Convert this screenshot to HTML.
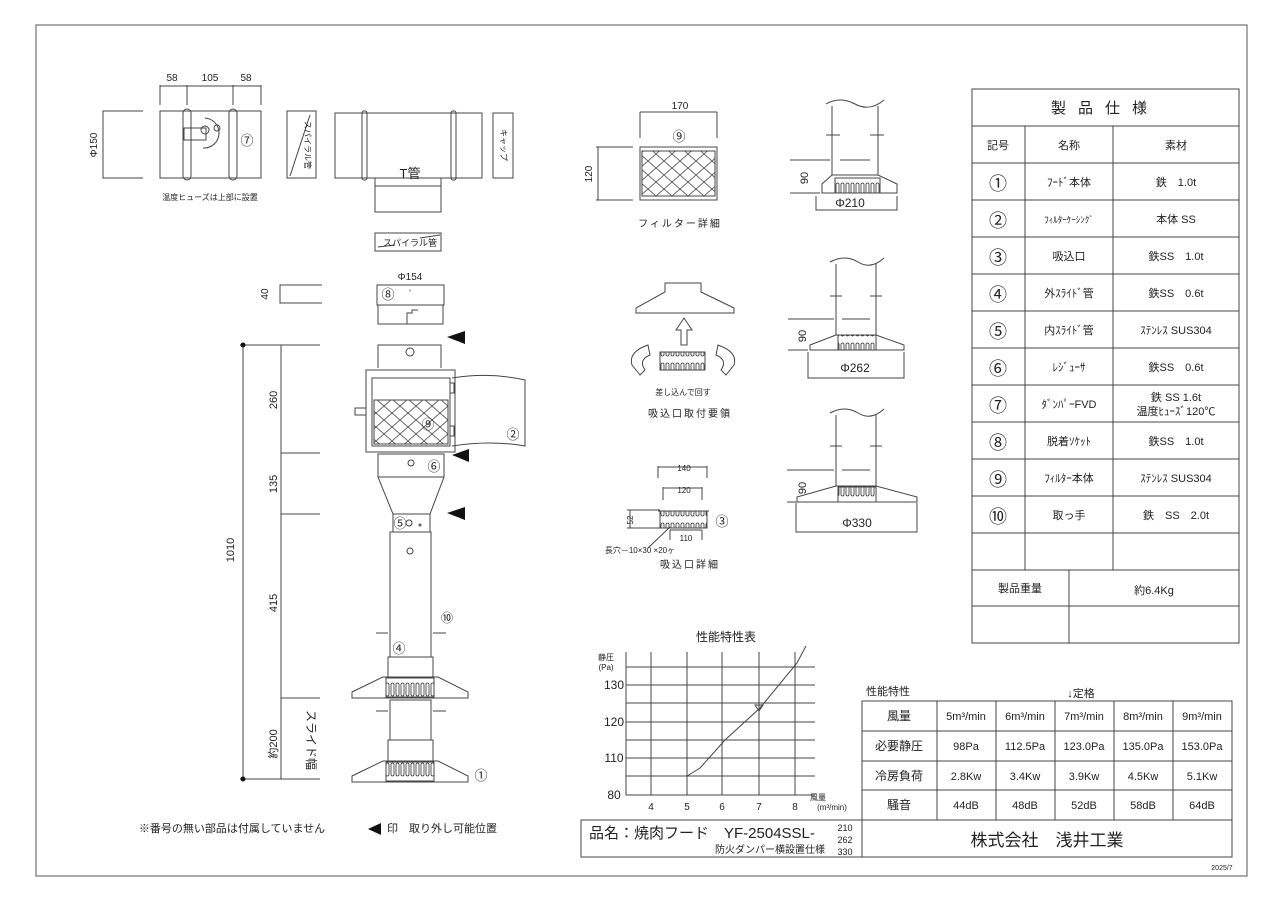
<!DOCTYPE html>
<html><head><meta charset="utf-8"><style>
html,body{margin:0;padding:0;background:#fff;}
svg{display:block;font-family:"Liberation Sans","Noto Sans CJK JP",sans-serif;}
text{fill:#222;}
</style></head><body>
<svg width="1280" height="904" viewBox="0 0 1280 904" xmlns="http://www.w3.org/2000/svg">
<defs>
<pattern id="mesh" width="16" height="14" patternUnits="userSpaceOnUse">
<path d="M0 0L16 14M16 0L0 14" stroke="#444" stroke-width="0.8" fill="none"/>
</pattern>
<pattern id="gr" width="5" height="20" patternUnits="userSpaceOnUse">
<rect x="1" y="3" width="3" height="13" rx="1.5" fill="none" stroke="#333" stroke-width="0.8"/>
</pattern>
</defs>
<rect x="36" y="25" width="1211" height="851" fill="none" stroke="#555" stroke-width="1"/>
<g fill="none" stroke="#444" stroke-width="1">
<line x1="160" y1="85" x2="160" y2="105"/><line x1="187" y1="85" x2="187" y2="105"/><line x1="233" y1="85" x2="233" y2="105"/><line x1="261" y1="85" x2="261" y2="105"/>
<line x1="160" y1="86" x2="261" y2="86"/>
<path d="M143 111H103V178H143"/>
<rect x="160" y="111" width="101" height="67"/>
<rect x="183" y="109" width="8" height="71" rx="4"/><rect x="229" y="109" width="8" height="71" rx="4"/>
<path d="M205 118a15 15 0 1 1 -2 30 M184 128h22v12h-22z" />
<circle cx="205" cy="130" r="4"/><circle cx="217" cy="128" r="3"/>
<rect x="287" y="111" width="29" height="67"/><line x1="290" y1="176" x2="310" y2="115"/>
<rect x="335" y="113" width="147" height="65"/>
<rect x="362" y="111" width="5" height="69" rx="2"/><rect x="451" y="111" width="5" height="69" rx="2"/>
<rect x="375" y="178" width="66" height="34"/><line x1="375" y1="186" x2="441" y2="186"/>
<rect x="493" y="113" width="20" height="65"/>
<rect x="375" y="233" width="66" height="18"/><line x1="378" y1="247" x2="395" y2="245"/><line x1="420" y1="238" x2="440" y2="235"/>
<path d="M322 285H280V303H322"/>
<rect x="377" y="285" width="67" height="20"/>
<path d="M378 305V324H443V305 M407 324V313H412V310H418"/>
<path d="M378 368V345H441V368 M366 370H455V452H366Z"/>
<rect x="372" y="378" width="78" height="68"/>
<rect x="374" y="400" width="74" height="44" fill="url(#mesh)"/>
<path d="M452 378Q490 372 525 380V446Q490 440 452 446"/>
<rect x="450" y="383" width="4" height="10"/><rect x="450" y="426" width="4" height="10"/>
<rect x="355" y="408" width="11" height="7"/>
<circle cx="410" cy="352" r="4"/>
<path d="M378 454H444V477L430 514H393L378 477Z M378 477H444"/>
<circle cx="411" cy="463" r="3"/>
<rect x="393" y="514" width="37" height="18"/><circle cx="409" cy="523" r="3"/><circle cx="420" cy="525" r="1"/>
<rect x="390" y="532" width="41" height="125"/><circle cx="410" cy="551" r="3"/>
<rect x="388" y="657" width="45" height="20"/>
<path d="M376 633H388M433 633H446 M376 711H388M433 711H446"/>
<path d="M383 677H438L468 692V698H352V692Z"/>
<rect x="386" y="678" width="48" height="19" fill="url(#gr)"/>
<rect x="390" y="700" width="41" height="40"/><rect x="388" y="740" width="45" height="21"/>
<path d="M383 761H438L468 776V782H352V776Z"/>
<rect x="386" y="762" width="48" height="19" fill="url(#gr)"/>
<line x1="243" y1="345" x2="243" y2="779"/>
<line x1="281" y1="345" x2="281" y2="779"/>
<path d="M240 345H320M281 453H320M281 514H320M281 698H320M240 779H320"/>
<line x1="640" y1="112" x2="717" y2="112"/><line x1="640" y1="112" x2="640" y2="138"/><line x1="717" y1="112" x2="717" y2="138"/>
<rect x="640" y="147" width="77" height="53"/><rect x="642" y="151" width="73" height="45" fill="url(#mesh)"/>
<path d="M596 147H633M596 200H633M598 147V200"/>
<path d="M665 283V292L636 308V313H734V308L701 292V283Z"/>
<path d="M681 345V330H676L684 318L692 330H687V345Z"/>
<rect x="660" y="352" width="45" height="18" fill="url(#gr)"/>
<path d="M660 352H705"/>
<path d="M648 345Q628 352 632 365L640 375L645 370Q638 360 650 355Z"/>
<path d="M718 345Q738 352 734 365L726 375L721 370Q728 360 716 355Z"/>
<path d="M658 466V478M707 466V478M658 467H707 M663 487V500M702 487V500M663 488H702"/>
<rect x="660" y="511" width="47" height="17" fill="url(#gr)"/><path d="M658 511H709"/>
<path d="M627 510H660M627 528H660M630 510V528 M670 530H702M670 530V540M702 530V540"/>
<line x1="648" y1="548" x2="670" y2="527"/>
<path d="M832 106V175M878 106V175M826 104Q840 96 855 104T884 100M826 135H840M870 135H884M840 160H870M790 160H830M790 193H820"/>
<path d="M832 175L822 184V193H897V184L878 175Z"/><rect x="835" y="178" width="45" height="15" fill="url(#gr)"/>
<path d="M816 196V210H897V196"/>
<path d="M836 264V335M876 264V335M830 262Q845 254 858 262T884 258M830 296H842M870 296H882M842 319H870M788 319H834M788 350H808"/>
<path d="M836 335L810 345V350H904V345L876 335Z"/><rect x="838" y="335" width="38" height="15" fill="url(#gr)"/>
<path d="M808 352V378H904V352"/>
<path d="M836 415V486M876 415V486M830 413Q845 405 858 413T884 409M830 446H842M870 446H882M842 470H870M787 470H834M787 502H797"/>
<path d="M836 486L797 497V502H917V497L876 486Z"/><rect x="838" y="487" width="38" height="15" fill="url(#gr)"/>
<path d="M796 503V532H917V503"/>
<rect x="972" y="89" width="267" height="554"/>
<path d="M972 126H1239M972 163H1239M972 200H1239M972 237H1239M972 274H1239M972 311H1239M972 348H1239M972 385H1239M972 422H1239M972 459H1239M972 496H1239M972 533H1239M972 570H1239M972 606H1239"/>
<path d="M1025 126V570M1113 126V570M1069 570V643"/>
<path d="M626 652V795H815 M626 667H815M626 685H815M626 703H815M626 722H815M626 740H815M626 758H815M626 776H815 M651 652V795M687 652V795M722 652V795M759 652V795M795 652V795"/>
<path d="M687 776L700 768L725 740L760 708L797 663L806 646"/>
<path d="M755 705h8l-4 6z"/>
<rect x="862" y="701" width="370" height="119"/>
<path d="M862 731H1232M862 761H1232M862 790H1232 M937 701V820M996 701V820M1055 701V820M1114 701V820M1173 701V820"/>
<rect x="581" y="820" width="651" height="37"/><line x1="862" y1="820" x2="862" y2="857"/>
</g>
<g fill="#111">
<path d="M447 337L465 331V344Z M452 455L469 449V462Z M447 513L465 507V520Z M368 829L381 823V835Z"/>
<circle cx="243" cy="345" r="2.5"/><circle cx="243" cy="779" r="2.5"/>
</g>
<g font-size="10" text-anchor="middle">
<text x="172" y="81">58</text><text x="210" y="81">105</text><text x="246" y="81">58</text>
<text transform="translate(97,145) rotate(-90)">Φ150</text>
<text x="247" y="145" font-size="13">⑦</text>
<text x="210" y="200" font-size="8">温度ヒューズは上部に設置</text>
<text transform="translate(305,145) rotate(90)" font-size="8">スパイラル管</text>
<text x="410" y="178" font-size="13">T管</text>
<text transform="translate(501,145) rotate(90)" font-size="8">キャップ</text>
<text x="410" y="246" font-size="9">スパイラル管</text>
<text x="410" y="280">Φ154</text>
<text x="388" y="299" font-size="13">⑧</text><text x="410" y="294" font-size="6">°</text>
<text transform="translate(268,294) rotate(-90)">40</text>
<text x="428" y="429" font-size="13">⑨</text><text x="513" y="439" font-size="13">②</text>
<text x="434" y="471" font-size="13">⑥</text><text x="400" y="528" font-size="13">⑤</text>
<text x="447" y="622" font-size="12">⑩</text><text x="399" y="653" font-size="13">④</text>
<text x="481" y="780" font-size="13">①</text>
<text transform="translate(277,400) rotate(-90)" font-size="11">260</text>
<text transform="translate(277,484) rotate(-90)" font-size="11">135</text>
<text transform="translate(277,603) rotate(-90)" font-size="11">415</text>
<text transform="translate(277,744) rotate(-90)" font-size="11">約200</text>
<text transform="translate(234,550) rotate(-90)" font-size="11">1010</text>
<text transform="translate(307,740) rotate(90)" font-size="12">スライド幅</text>
<text x="232" y="832" font-size="11">※番号の無い部品は付属していません</text>
<text x="442" y="832" font-size="11">印　取り外し可能位置</text>
<text x="680" y="109">170</text>
<text x="679" y="141" font-size="13">⑨</text>
<text transform="translate(592,174) rotate(-90)">120</text>
<text x="680" y="227" font-size="10" letter-spacing="2">フィルター詳細</text>
<text x="683" y="395" font-size="8">差し込んで回す</text>
<text x="690" y="417" font-size="10" letter-spacing="2">吸込口取付要領</text>
<text x="684" y="471" font-size="8">140</text><text x="684" y="493" font-size="8">120</text>
<text transform="translate(633,520) rotate(-90)" font-size="8">52</text>
<text x="686" y="541" font-size="8">110</text>
<text x="722" y="526" font-size="13">③</text>
<text x="640" y="553" font-size="8">長穴－10×30 ×20ヶ</text>
<text x="690" y="568" font-size="10" letter-spacing="2">吸込口詳細</text>
<text transform="translate(808,178) rotate(-90)" font-size="11">90</text>
<text x="850" y="207" font-size="12">Φ210</text>
<text transform="translate(806,336) rotate(-90)" font-size="11">90</text>
<text x="855" y="372" font-size="12">Φ262</text>
<text transform="translate(806,488) rotate(-90)" font-size="11">90</text>
<text x="857" y="527" font-size="12">Φ330</text>
<text x="726" y="641" font-size="12">性能特性表</text>
<text x="606" y="660" font-size="8">静圧</text><text x="606" y="670" font-size="8">(Pa)</text>
<text x="614" y="689" font-size="12">130</text><text x="614" y="726" font-size="12">120</text><text x="614" y="762" font-size="12">110</text><text x="614" y="799" font-size="12">80</text>
<text x="651" y="810">4</text><text x="687" y="810">5</text><text x="722" y="810">6</text><text x="759" y="810">7</text><text x="795" y="810">8</text>
<text x="818" y="800" font-size="8">風量</text><text x="832" y="810" font-size="8">(m³/min)</text>
<text x="888" y="695" font-size="11">性能特性</text>
<text x="1081" y="697" font-size="11">↓定格</text>
<g font-size="11">
<text x="899" y="720" font-size="12">風量</text><text x="966" y="720">5m³/min</text><text x="1025" y="720">6m³/min</text><text x="1084" y="720">7m³/min</text><text x="1143" y="720">8m³/min</text><text x="1202" y="720">9m³/min</text>
<text x="899" y="750" font-size="12">必要静圧</text><text x="966" y="750">98Pa</text><text x="1025" y="750">112.5Pa</text><text x="1084" y="750">123.0Pa</text><text x="1143" y="750">135.0Pa</text><text x="1202" y="750">153.0Pa</text>
<text x="899" y="780" font-size="12">冷房負荷</text><text x="966" y="780">2.8Kw</text><text x="1025" y="780">3.4Kw</text><text x="1084" y="780">3.9Kw</text><text x="1143" y="780">4.5Kw</text><text x="1202" y="780">5.1Kw</text>
<text x="899" y="809" font-size="12">騒音</text><text x="966" y="809">44dB</text><text x="1025" y="809">48dB</text><text x="1084" y="809">52dB</text><text x="1143" y="809">58dB</text><text x="1202" y="809">64dB</text>
</g>
<text x="589" y="838" font-size="15" text-anchor="start">品名：焼肉フード　YF-2504SSL-</text>
<text x="770" y="853" font-size="10">防火ダンパー横設置仕様</text>
<text x="845" y="831" font-size="9">210</text><text x="845" y="843" font-size="9">262</text><text x="845" y="855" font-size="9">330</text>
<text x="1047" y="846" font-size="17">株式会社　浅井工業</text>
<text x="1222" y="870" font-size="7">2025/7</text>
<text x="1105" y="113" font-size="15" letter-spacing="12">製品仕様</text>
<g font-size="11">
<text x="998" y="149">記号</text><text x="1069" y="149">名称</text><text x="1176" y="149">素材</text>
<text x="998" y="190" font-size="18">①</text><text x="1069" y="186">ﾌｰﾄﾞ本体</text><text x="1176" y="186">鉄　1.0t</text>
<text x="998" y="227" font-size="18">②</text><text x="1069" y="223" font-size="9">ﾌｨﾙﾀｰｹｰｼﾝｸﾞ</text><text x="1176" y="223">本体 SS</text>
<text x="998" y="264" font-size="18">③</text><text x="1069" y="260">吸込口</text><text x="1176" y="260">鉄SS　1.0t</text>
<text x="998" y="301" font-size="18">④</text><text x="1069" y="297">外ｽﾗｲﾄﾞ管</text><text x="1176" y="297">鉄SS　0.6t</text>
<text x="998" y="338" font-size="18">⑤</text><text x="1069" y="334">内ｽﾗｲﾄﾞ管</text><text x="1176" y="334">ｽﾃﾝﾚｽ SUS304</text>
<text x="998" y="375" font-size="18">⑥</text><text x="1069" y="371">ﾚｼﾞｭｰｻ</text><text x="1176" y="371">鉄SS　0.6t</text>
<text x="998" y="412" font-size="18">⑦</text><text x="1069" y="408">ﾀﾞﾝﾊﾟｰFVD</text><text x="1176" y="401">鉄 SS 1.6t</text><text x="1176" y="415">温度ﾋｭｰｽﾞ120℃</text>
<text x="998" y="449" font-size="18">⑧</text><text x="1069" y="445">脱着ｿｹｯﾄ</text><text x="1176" y="445">鉄SS　1.0t</text>
<text x="998" y="486" font-size="18">⑨</text><text x="1069" y="482">ﾌｨﾙﾀｰ本体</text><text x="1176" y="482">ｽﾃﾝﾚｽ SUS304</text>
<text x="998" y="523" font-size="18">⑩</text><text x="1069" y="519">取っ手</text><text x="1176" y="519">鉄　SS　2.0t</text>
<text x="1020" y="592">製品重量</text><text x="1154" y="594">約6.4Kg</text>
</g>
</g>
</svg>
</body></html>
